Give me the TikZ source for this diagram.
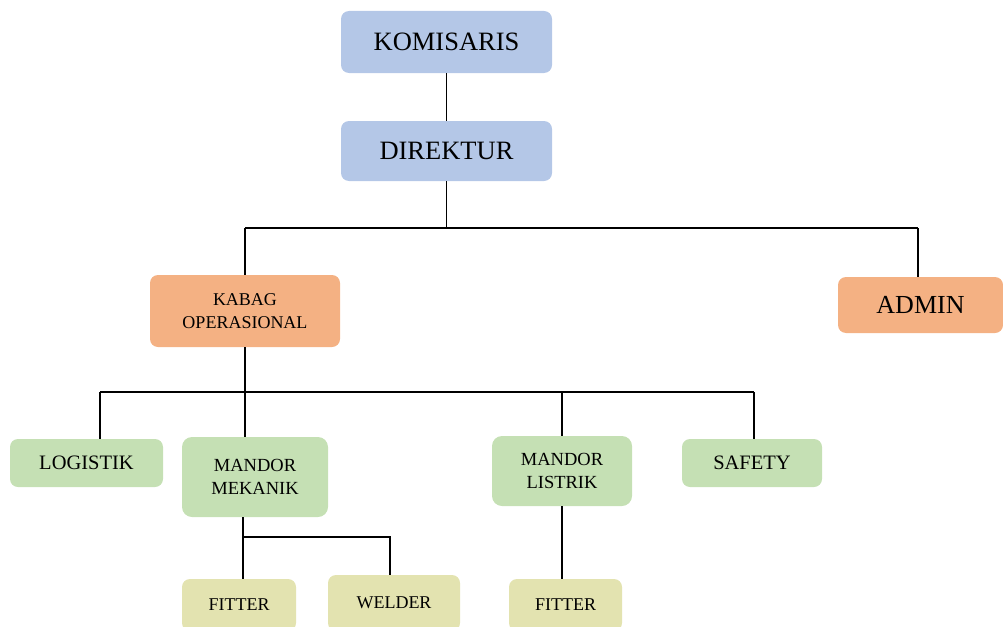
\documentclass[tikz,border=0pt]{standalone}
\usepackage{fontspec}
\setmainfont{Liberation Serif}
\usepackage{xcolor}
\usepackage{tikz}
\usetikzlibrary{positioning,calc}

\definecolor{boardblue}{HTML}{B4C7E7}
\definecolor{headorange}{HTML}{F4B183}
\definecolor{staffgreen}{HTML}{C5E0B4}
\definecolor{crewyellow}{HTML}{E3E3B0}

\tikzset{
    orgbox/.style={rectangle, rounded corners=8pt, inner sep=0pt, align=center, text=black},
    boardbox/.style={orgbox, fill=boardblue, minimum width=211pt, font=\fontsize{26.5}{30}\selectfont},
    headbox/.style={orgbox, fill=headorange},
    staffbox/.style={orgbox, fill=staffgreen, font=\fontsize{18.5}{23}\selectfont},
    crewbox/.style={orgbox, fill=crewyellow, font=\fontsize{18}{22}\selectfont},
    wire/.style={draw=black, line width=1.6pt}
}

\begin{document}
\begin{tikzpicture}[x=1pt, y=-1pt]
    \clip (0,0) rectangle (1003,626);
    % Board
    \node[boardbox, minimum height=62pt] (kom) at (446.5,42) {KOMISARIS};
    \node[boardbox, minimum height=60pt] (dir) at (446.5,151) {DIREKTUR};
    % Heads
    \node[headbox, minimum width=190pt, minimum height=72pt, font=\fontsize{18}{23}\selectfont] (kabag) at (245,311)
        {KABAG\\OPERASIONAL};
    \node[headbox, minimum width=165pt, minimum height=56pt, font=\fontsize{26}{30}\selectfont] (admin) at (920.5,305) {ADMIN};
    % Staff
    \node[staffbox, minimum width=153pt, minimum height=48pt, font=\fontsize{20.5}{24}\selectfont] (log) at (86.5,463) {LOGISTIK};
    \node[staffbox, minimum width=146pt, minimum height=80pt, rounded corners=10pt] (mek) at (255,477) {MANDOR\\MEKANIK};
    \node[staffbox, minimum width=140pt, minimum height=70pt, rounded corners=10pt] (lis) at (562,471) {MANDOR\\LISTRIK};
    \node[staffbox, minimum width=140pt, minimum height=48pt, font=\fontsize{20.5}{24}\selectfont] (saf) at (752,463) {SAFETY};
    % Crew
    \node[crewbox, minimum width=114pt, minimum height=52pt] (fit1) at (239,605) {FITTER};
    \node[crewbox, minimum width=132pt, minimum height=56pt] (weld) at (394,603) {WELDER};
    \node[crewbox, minimum width=113pt, minimum height=52pt] (fit2) at (565.5,605) {FITTER};

    % Lines
    \coordinate (busA) at (245,228);
    \coordinate (busB) at (918,228);
    \coordinate (busC) at (100,392);
    \coordinate (busD) at (754,392);
    \coordinate (busE) at (243,537);
    \coordinate (busF) at (390,537);
    \draw[wire] (kom.south) -- (dir.north);
    \draw[wire] (dir.south) -- (dir.south |- busA);
    \draw[wire] (busA) -- (busB);
    \draw[wire] (busA) -- (kabag.north);
    \draw[wire] (busB) -- (busB |- admin.north);
    \draw[wire] (kabag.south) -- (kabag.south |- mek.north);
    \draw[wire] (busC) -- (busD);
    \draw[wire] (busC) -- (busC |- log.north);
    \draw[wire] (lis.north |- busC) -- (lis.north);
    \draw[wire] (busD) -- (busD |- saf.north);
    \draw[wire] (busE |- mek.south) -- (busE |- fit1.north);
    \draw[wire] (busE) -- (busF) -- (busF |- weld.north);
    \draw[wire] (lis.south) -- (lis.south |- fit2.north);
\end{tikzpicture}
\end{document}
